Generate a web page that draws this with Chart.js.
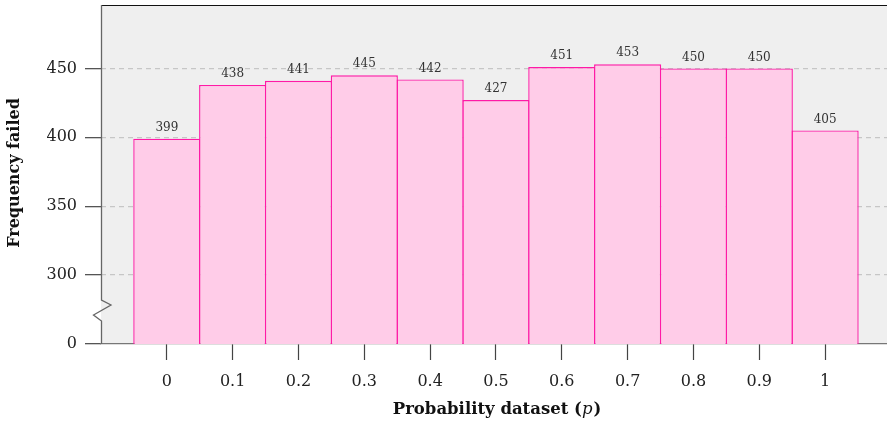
<!DOCTYPE html>
<html>
<head>
<meta charset="utf-8">
<script src="https://cdn.jsdelivr.net/npm/chart.js@4.4.1/dist/chart.umd.min.js"></script>
<style>
html,body{margin:0;padding:0;background:#fff;overflow:hidden;}
canvas{display:block;}
</style>
</head>
<body>
<canvas id="c" width="887" height="424"></canvas>
<script>
// ---- data ----
const categories = [0, 0.1, 0.2, 0.3, 0.4, 0.5, 0.6, 0.7, 0.8, 0.9, 1];
const xTickLabels = ['0', '0.1', '0.2', '0.3', '0.4', '0.5', '0.6', '0.7', '0.8', '0.9', '1'];
const frequencyFailed = [399, 438, 441, 445, 442, 427, 451, 453, 450, 450, 405];
const yTickValues = [250, 300, 350, 400, 450];   // 250 is shown as "0" (broken axis)
const yTickLabels = ['0', '300', '350', '400', '450'];
const yTitle = 'Frequency failed';
const xTitle = 'Probability dataset (';
const xTitleVar = 'p';

const SERIF = '"DejaVu Serif", "Liberation Serif", serif';

const decor = {
  id: 'decor',
  beforeDraw(chart) {
    const {ctx, chartArea: a} = chart;
    ctx.save();
    ctx.fillStyle = '#efefef';
    ctx.fillRect(a.left, a.top, a.right - a.left, a.bottom - a.top);
    ctx.restore();
  },
  afterDatasetsDraw(chart) {
    const {ctx} = chart;
    const meta = chart.getDatasetMeta(0);
    ctx.save();
    ctx.font = '12px ' + SERIF;
    ctx.fillStyle = '#333';
    ctx.textAlign = 'center';
    ctx.textBaseline = 'bottom';
    meta.data.forEach((bar, i) => {
      ctx.fillText(String(frequencyFailed[i]), bar.x, bar.y - 5);
    });
    ctx.restore();
  },
  afterDraw(chart) {
    const {ctx, chartArea: a} = chart;
    ctx.save();
    // top frame
    ctx.strokeStyle = '#111';
    ctx.lineWidth = 1.2;
    ctx.beginPath();
    ctx.moveTo(a.left, a.top + 0.5);
    ctx.lineTo(a.right, a.top + 0.5);
    ctx.stroke();
    // left axis with break mark
    const x = a.left + 0.5;
    ctx.strokeStyle = '#666';
    ctx.lineWidth = 1.3;
    ctx.beginPath();
    ctx.moveTo(x, a.top);
    ctx.lineTo(x, a.bottom - 44);
    ctx.lineTo(x + 9.5, a.bottom - 39);
    ctx.lineTo(x - 8, a.bottom - 29);
    ctx.lineTo(x, a.bottom - 23);
    ctx.lineTo(x, a.bottom);
    ctx.stroke();
    // axis titles
    ctx.fillStyle = '#111';
    ctx.font = 'bold 16px ' + SERIF;
    ctx.textBaseline = 'middle';
    ctx.textAlign = 'center';
    ctx.save();
    ctx.translate(15, 173);
    ctx.rotate(-Math.PI / 2);
    ctx.fillText(yTitle, 0, 0);
    ctx.restore();
    const fs = 16.5;
    ctx.font = 'bold ' + fs + 'px ' + SERIF;
    const w1 = ctx.measureText(xTitle).width;
    ctx.font = 'italic ' + fs + 'px ' + SERIF;
    const w2 = ctx.measureText(xTitleVar).width;
    ctx.font = 'bold ' + fs + 'px ' + SERIF;
    const w3 = ctx.measureText(')').width;
    const total = w1 + w2 + w3 + 1;
    let sx = 497 - total / 2;
    ctx.textAlign = 'left';
    ctx.fillText(xTitle, sx, 410);
    ctx.font = 'italic ' + fs + 'px ' + SERIF;
    ctx.fillText(xTitleVar, sx + w1, 410);
    ctx.font = 'bold ' + fs + 'px ' + SERIF;
    ctx.fillText(')', sx + w1 + w2 + 1, 410);
    ctx.restore();
  }
};

new Chart(document.getElementById('c'), {
  type: 'bar',
  data: {
    datasets: [{
      data: categories.map((c, i) => ({x: c, y: frequencyFailed[i]})),
      backgroundColor: '#ffcce8',
      borderColor: '#ff1aa6',
      borderWidth: {top: 1.4, left: 1.4, right: 1.4, bottom: 0},
      borderSkipped: false,
      barPercentage: 1.02,
      categoryPercentage: 1
    }]
  },
  options: {
    responsive: false,
    animation: false,
    layout: {padding: {top: 5, left: 0, right: 0, bottom: 0}},
    plugins: {legend: {display: false}, tooltip: {enabled: false}},
    scales: {
      x: {
        type: 'linear',
        offset: false,
        min: -0.1,
        max: 1.094,
        afterBuildTicks: s => { s.ticks = categories.map(v => ({value: v})); },
        afterFit: s => { s.height = 80; s.paddingLeft = 0; s.paddingRight = 0; },
        ticks: {
          stepSize: 0.1,
          padding: 12,
          color: '#222',
          font: {family: SERIF, size: 16},
          callback: (v) => {
            const i = categories.findIndex(c => Math.abs(c - v) < 1e-6);
            return i >= 0 ? xTickLabels[i] : '';
          }
        },
        grid: {
          offset: false,
          drawOnChartArea: false,
          drawTicks: true,
          tickLength: 16,
          tickColor: '#444',
          tickWidth: 1.2,
          tickBorderDash: []
        },
        border: {display: true, color: '#777', width: 1.3}
      },
      y: {
        min: 250,
        max: 496,
        afterBuildTicks: s => { s.ticks = yTickValues.map(v => ({value: v})); },
        afterFit: s => { s.width = 101; s.paddingTop = 0; s.paddingBottom = 0; },
        ticks: {
          padding: 8,
          color: '#222',
          font: {family: SERIF, size: 16},
          callback: (v) => {
            const i = yTickValues.indexOf(v);
            return i >= 0 ? yTickLabels[i] : '';
          }
        },
        grid: {
          color: ctx => (ctx.tick && ctx.tick.value === 250) ? 'rgba(0,0,0,0)' : '#c6c6c6',
          lineWidth: 1.3,
          tickLength: 16,
          tickColor: '#555',
          tickWidth: 1.3,
          tickBorderDash: []
        },
        border: {display: false, dash: [5, 4]}
      }
    }
  },
  plugins: [decor]
});
</script>
</body>
</html>
